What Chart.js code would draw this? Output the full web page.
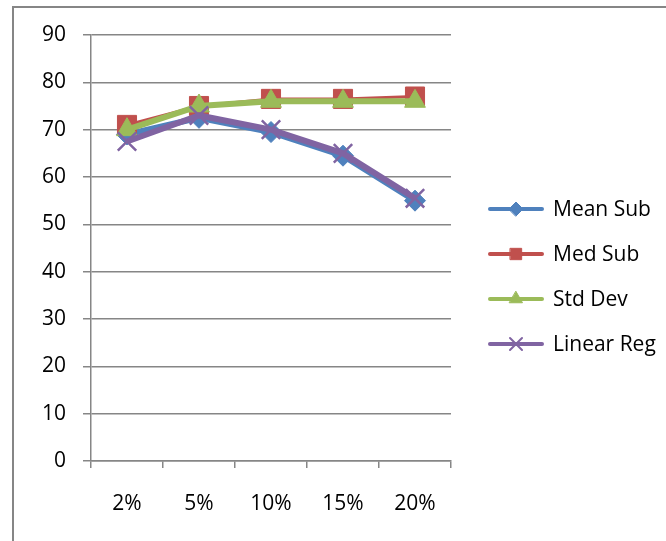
<!DOCTYPE html>
<html>
<head>
<meta charset="utf-8">
<script src="https://cdn.jsdelivr.net/npm/chart.js@4/dist/chart.umd.min.js"></script>
<style>
  html, body { margin: 0; padding: 0; background: #ffffff; }
  #wrap { position: relative; width: 666px; height: 541px; }
</style>
</head>
<body>
<div id="wrap"><canvas id="chart"></canvas></div>
<script>
// Category labels along the x axis
const categories = ['2%', '5%', '10%', '15%', '20%'];

// Series values
const meanSub   = [69, 72.5, 69.5, 64.5, 55];
const medSub    = [71, 75, 76.5, 76.5, 77];
const stdDev    = [70, 75, 76, 76, 76];
const linearReg = [67.5, 73, 70, 65, 55.5];

// Series names shown in the legend
const seriesNames = ['Mean Sub', 'Med Sub', 'Std Dev', 'Linear Reg'];

// Value axis range and step
const yMin = 0;
const yMax = 90;
const yStep = 10;

const FONT = { family: '"Open Sans", "Liberation Sans", sans-serif', size: 21 };
const AXIS_GRAY = '#868686';

// Outer frame around the whole chart
const framePlugin = {
  id: 'frame',
  beforeDraw(chart) {
    const ctx = chart.ctx;
    ctx.save();
    ctx.fillStyle = '#ffffff';
    ctx.fillRect(0, 0, chart.width, chart.height);
    ctx.strokeStyle = AXIS_GRAY;
    ctx.lineWidth = 2;
    ctx.strokeRect(13, 7, chart.width + 20, chart.height + 20);
    ctx.restore();
  }
};

// Legend on the right: line sample with marker, then the series name
const sideLegend = {
  id: 'sideLegend',
  afterDraw(chart) {
    const ctx = chart.ctx;
    const x0 = 490, x1 = 542, textX = 553;
    const firstY = 209, gap = 45;
    ctx.save();
    chart.data.datasets.forEach((ds, i) => {
      const y = firstY + i * gap;
      ctx.strokeStyle = ds.borderColor;
      ctx.lineWidth = 4;
      ctx.lineCap = 'round';
      ctx.beginPath();
      ctx.moveTo(x0, y);
      ctx.lineTo(x1, y);
      ctx.stroke();
      ctx.fillStyle = ds.pointBackgroundColor;
      ctx.strokeStyle = ds.pointBorderColor;
      ctx.lineWidth = ds.legendPointBorder;
      Chart.helpers.drawPoint(ctx, {
        pointStyle: ds.pointStyle,
        radius: ds.legendRadius,
        rotation: 0,
        borderWidth: ds.legendPointBorder
      }, (x0 + x1) / 2, y);
      ctx.fillStyle = '#000000';
      ctx.font = FONT.size + 'px ' + FONT.family;
      ctx.textBaseline = 'middle';
      ctx.textAlign = 'left';
      ctx.fillText(ds.label, textX, y + 1);
    });
    ctx.restore();
  }
};

new Chart(document.getElementById('chart'), {
  type: 'line',
  data: {
    labels: categories,
    datasets: [
      {
        label: seriesNames[0], data: meanSub, order: 4,
        borderColor: '#4F81BD', borderWidth: 6,
        pointStyle: 'rectRot', pointRadius: 10.5,
        pointBackgroundColor: '#4F81BD', pointBorderColor: '#4F81BD', pointBorderWidth: 1,
        legendRadius: 7, legendPointBorder: 1
      },
      {
        label: seriesNames[1], data: medSub, order: 3,
        borderColor: '#C0504D', borderWidth: 3,
        pointStyle: 'rect', pointRadius: 13.5,
        pointBackgroundColor: '#C0504D', pointBorderColor: '#C0504D', pointBorderWidth: 1,
        legendRadius: 8, legendPointBorder: 1
      },
      {
        label: seriesNames[2], data: stdDev, order: 2,
        borderColor: '#9BBB59', borderWidth: 6,
        pointStyle: 'triangle', pointRadius: 12,
        pointBackgroundColor: '#9BBB59', pointBorderColor: '#9BBB59', pointBorderWidth: 1,
        legendRadius: 7.5, legendPointBorder: 1
      },
      {
        label: seriesNames[3], data: linearReg, order: 1,
        borderColor: '#8064A2', borderWidth: 6,
        pointStyle: 'crossRot', pointRadius: 13,
        pointBackgroundColor: '#8064A2', pointBorderColor: '#8064A2', pointBorderWidth: 2.5,
        legendRadius: 8.5, legendPointBorder: 2
      }
    ]
  },
  options: {
    responsive: true,
    maintainAspectRatio: false,
    animation: false,
    events: [],
    layout: { padding: { left: 0, top: 35, right: 215, bottom: 0 } },
    plugins: {
      legend: { display: false },
      tooltip: { enabled: false }
    },
    elements: { line: { tension: 0 } },
    scales: {
      x: {
        type: 'category',
        offset: true,
        grid: {
          offset: true,
          drawOnChartArea: false,
          drawTicks: true,
          tickLength: 7,
          color: AXIS_GRAY,
          lineWidth: 1.5
        },
        border: { color: AXIS_GRAY, width: 1.5 },
        ticks: { color: '#000000', font: FONT, padding: 23, maxRotation: 0 },
        afterFit(scale) { scale.height = 80; }
      },
      y: {
        min: yMin,
        max: yMax,
        grid: { color: AXIS_GRAY, lineWidth: 1.5, tickLength: 8 },
        border: { color: AXIS_GRAY, width: 1.5 },
        ticks: { stepSize: yStep, color: '#000000', font: FONT, padding: 17 },
        afterFit(scale) { scale.width = 91; }
      }
    }
  },
  plugins: [framePlugin, sideLegend]
});
</script>
</body>
</html>
